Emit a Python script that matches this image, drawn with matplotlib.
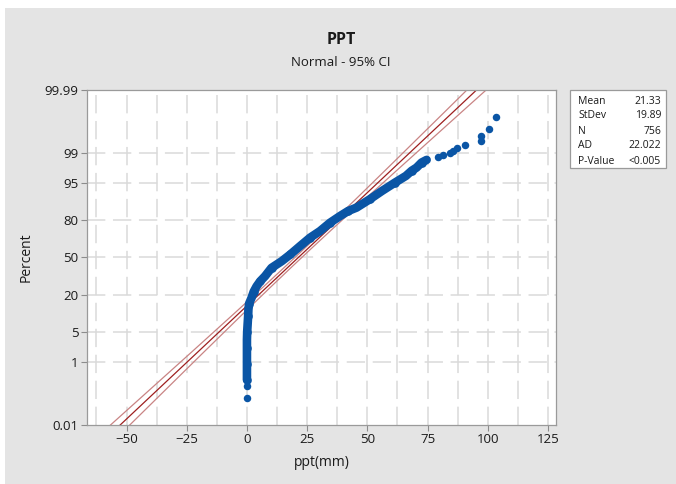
#!/usr/bin/python
# -*- coding: utf-8 -*-

from statistics import NormalDist

import matplotlib
matplotlib.use('Agg')
from matplotlib import pyplot
from matplotlib.patches import Rectangle
import numpy

# Summary shown in the box
MEAN, STDEV, N = 21.33, 19.89, 756
stat_names = ['Mean', 'StDev', 'N', 'AD', 'P-Value']
stat_values = ['21.33', '19.89', '756', '22.022', '<0.005']

# Points: ppt (mm) against plotted percent
low_ppt = [0.0, 0.0]
low_pct = [0.093, 0.22]
band_ppt = [0.0, 0.0, 0.0, 0.0, 0.0, 0.0, 0.1, 0.3, 0.5, 0.6, 0.9, 1.9,
            2.8, 4.0, 5.5, 7.5, 10.2, 14.4, 18.0, 22.0, 26.2, 30.3, 34.5,
            38.6, 42.0, 45.5, 51.0, 56.0, 61.5, 66.0, 68.4, 70.4, 72.5, 74.6]
band_pct = [0.33, 0.56, 0.91, 1.45, 2.25, 3.4, 5.0, 7.1, 9.8, 12.3, 15.3,
            18.5, 22.4, 26.1, 29.9, 33.9, 40.9, 46.7, 52.7, 59.9, 67.0, 72.1,
            78.0, 82.1, 84.9, 86.6, 90.2, 93.0, 95.2, 96.5, 97.3, 97.7, 98.25,
            98.49]
tail_ppt = [79.4, 81.5, 84.3, 85.6, 87.0, 90.5, 97.0, 97.0, 100.5, 103.4]
tail_pct = [98.72, 98.85, 98.98, 99.12, 99.25, 99.38, 99.51, 99.64, 99.78,
            99.91]

pct_ticks = [0.01, 1, 5, 20, 50, 80, 95, 99, 99.99]
pct_labels = ['0.01', '1', '5', '20', '50', '80', '95', '99', '99.99']
x_ticks = [-50, -25, 0, 25, 50, 75, 100, 125]

W, H = 676, 484
BLUE = '#0A55A5'
GRID = '#DADADA'
TEXT = '#1A1A1A'


def z(pct):
  nd = NormalDist()
  return numpy.array([nd.inv_cdf(p / 100.0) for p in numpy.atleast_1d(pct)])


def fx(px):
  return px / W


def fy(py):
  return 1 - py / H


def main():
  pyplot.rcParams['font.family'] = ['Open Sans', 'DejaVu Sans']
  fig = pyplot.figure(figsize=(W / 100, H / 100), dpi=100, facecolor='white')
  fig.patches.append(Rectangle((fx(5), -0.1), 1.2, fy(8) + 0.1,
                               transform=fig.transFigure, facecolor='#E4E4E4',
                               edgecolor='none', zorder=-5))

  ax = fig.add_axes([fx(87), fy(425), fx(556 - 87), (425 - 90) / H])
  ax.set_facecolor('white')
  zlim = z([0.01, 99.99])
  ax.set_xlim(-66.4, 128.3)
  ax.set_ylim(zlim[0], zlim[1])

  # grid
  for gx in numpy.arange(-62.5, 128, 12.5):
    ax.axvline(gx, color=GRID, lw=1.1, ls=(0, (12, 5)), zorder=0)
  for gy in z(pct_ticks[1:-1]):
    ax.axhline(gy, color=GRID, lw=1.1, ls=(0, (12, 5)), zorder=0)

  # fitted line and 95% CI
  zz = numpy.linspace(zlim[0] - 0.1, zlim[1] + 0.1, 200)
  fit = MEAN + STDEV * zz
  se = STDEV * numpy.sqrt(1.0 / N + zz ** 2 / (2.0 * N))
  ax.plot(fit, zz, color='#9E1F1F', lw=0.9, zorder=2)
  ax.plot(fit - 1.96 * se, zz, color='#C98484', lw=0.9, zorder=2)
  ax.plot(fit + 1.96 * se, zz, color='#C98484', lw=0.9, zorder=2)

  # data
  ax.plot(band_ppt, z(band_pct), color=BLUE, lw=6.2, solid_capstyle='round',
          solid_joinstyle='round', zorder=3)
  ax.plot(band_ppt[::2], z(band_pct[::2]), ls='none', marker='o', ms=6.2,
          mew=0, color=BLUE, zorder=3)
  ax.plot(low_ppt + tail_ppt, z(low_pct + tail_pct),
          ls='none', marker='o', ms=5.4, mew=0, color=BLUE, zorder=4)

  ax.set_xticks(x_ticks)
  ax.set_yticks(z(pct_ticks))
  ax.set_yticklabels(pct_labels)
  ax.tick_params(length=4, width=0.8, color='#8C8C8C', labelsize=9.5,
                 labelcolor=TEXT, pad=2)
  for s in ax.spines.values():
    s.set_color('#9A9A9A')
    s.set_linewidth(0.9)
  ax.set_xlabel('ppt(mm)', fontsize=10, color=TEXT, labelpad=6)
  ax.set_ylabel('Percent', fontsize=10, color=TEXT, labelpad=8)

  fig.text(fx(341), fy(40), 'PPT', ha='center', va='center', fontsize=11.5,
           fontweight='bold', color=TEXT)
  fig.text(fx(341), fy(62), 'Normal - 95% CI', ha='center', va='center',
           fontsize=9.5, color=TEXT)

  # stats box
  fig.patches.append(Rectangle((fx(570), fy(168)), fx(666 - 570), (168 - 90) / H,
                               transform=fig.transFigure, facecolor='white',
                               edgecolor='#9A9A9A', lw=0.9))
  for i, (name, val) in enumerate(zip(stat_names, stat_values)):
    y = fy(101 + 15 * i)
    fig.text(fx(578), y, name, ha='left', va='center', fontsize=7.5, color=TEXT)
    fig.text(fx(661), y, val, ha='right', va='center', fontsize=7.5, color=TEXT)

  fig.savefig('out.png', dpi=100, facecolor=fig.get_facecolor())


if __name__ == '__main__':
  main()
